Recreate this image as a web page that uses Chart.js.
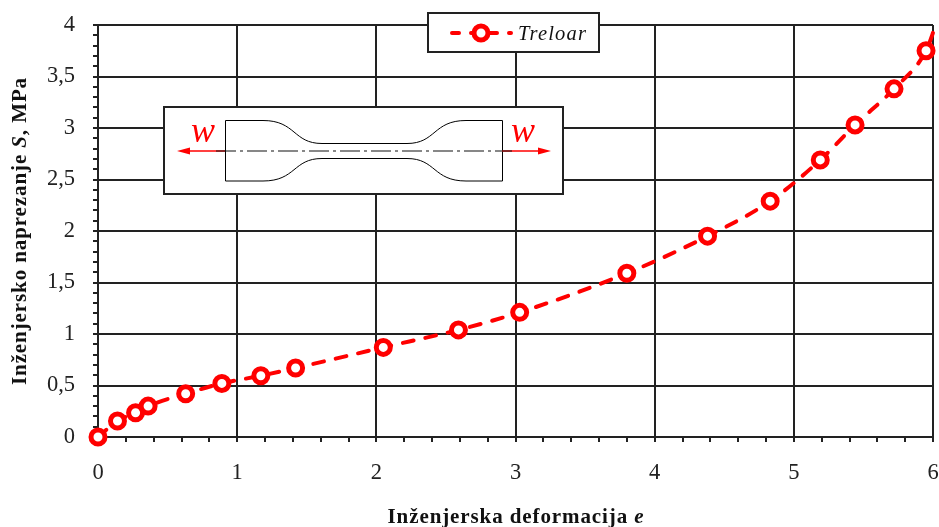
<!DOCTYPE html>
<html lang="en">
<head>
<meta charset="UTF-8" />
<title>Treloar</title>
<script src="https://cdn.jsdelivr.net/npm/chart.js"></script>
<style>
  html, body { margin: 0; padding: 0; background: #fff; }
  #wrap { width: 939px; height: 527px; }
</style>
</head>
<body>
<div id="wrap"><canvas id="chart" width="939" height="527"></canvas></div>
<script>
const seriesName = "Treloar";
const strain = [0, 0.14, 0.27, 0.36, 0.63, 0.89, 1.17, 1.42, 2.05, 2.59, 3.03, 3.80, 4.38, 4.83, 5.19, 5.44, 5.72, 5.95, 6.02];
const stress = [0, 0.155, 0.235, 0.30, 0.42, 0.52, 0.595, 0.67, 0.87, 1.04, 1.21, 1.59, 1.95, 2.29, 2.69, 3.03, 3.38, 3.75, 4.0];
// last point only carries the line to the frame, it has no marker
const markerRadius = strain.map((v, i) => i === strain.length - 1 ? 0 : 7);

const xTickLabels = ["0", "1", "2", "3", "4", "5", "6"];
const yTickLabels = ["0", "0,5", "1", "1,5", "2", "2,5", "3", "3,5", "4"];
const xTitle = "Inženjerska deformacija ";
const xTitleVar = "e";
const yTitle = "Inženjersko naprezanje ";
const yTitleVar = "S";
const yTitleUnit = ", MPa";
const forceLabel = "w";

const RED = "#ff0000";
const INK = "#222222";
const SERIF = '"Liberation Serif", serif';

function isMajor(v, every) {
  const n = v / every;
  return Math.abs(n - Math.round(n)) < 1e-6;
}

// text built from several fonts, centred on x
function mixedText(ctx, parts, x, y) {
  let total = 0;
  parts.forEach(p => { ctx.font = p.font; total += ctx.measureText(p.text).width; });
  let cx = x - total / 2;
  parts.forEach(p => {
    ctx.font = p.font;
    ctx.fillText(p.text, cx, y);
    cx += ctx.measureText(p.text).width;
  });
}

function drawArrow(ctx, x1, x2, y) {
  const dir = x2 > x1 ? 1 : -1;
  ctx.strokeStyle = RED;
  ctx.fillStyle = RED;
  ctx.lineWidth = 1.5;
  ctx.setLineDash([]);
  ctx.beginPath(); ctx.moveTo(x1, y); ctx.lineTo(x2 - dir * 8, y); ctx.stroke();
  ctx.beginPath();
  ctx.moveTo(x2, y);
  ctx.lineTo(x2 - dir * 13, y - 3.5);
  ctx.lineTo(x2 - dir * 13, y + 3.5);
  ctx.closePath();
  ctx.fill();
}

function drawInset(ctx) {
  ctx.save();
  ctx.fillStyle = "#fff";
  ctx.strokeStyle = INK;
  ctx.lineWidth = 2;
  ctx.fillRect(164, 107, 399, 87);
  ctx.strokeRect(164, 107, 399, 87);

  // specimen outline
  ctx.lineWidth = 1;
  ctx.strokeStyle = "#000";
  ctx.beginPath();
  ctx.moveTo(225.5, 120.5);
  ctx.lineTo(263, 120.5);
  ctx.bezierCurveTo(296, 120.5, 293, 143.5, 322, 143.5);
  ctx.lineTo(407, 143.5);
  ctx.bezierCurveTo(436, 143.5, 433, 120.5, 466, 120.5);
  ctx.lineTo(502.5, 120.5);
  ctx.lineTo(502.5, 181);
  ctx.lineTo(466, 181);
  ctx.bezierCurveTo(433, 181, 436, 158.5, 407, 158.5);
  ctx.lineTo(322, 158.5);
  ctx.bezierCurveTo(293, 158.5, 296, 181, 263, 181);
  ctx.lineTo(225.5, 181);
  ctx.closePath();
  ctx.stroke();

  drawArrow(ctx, 225, 177, 151);
  drawArrow(ctx, 502, 551, 151);

  // centre line
  ctx.strokeStyle = "#111";
  ctx.lineWidth = 1.2;
  ctx.setLineDash([20, 4, 3, 4]);
  ctx.beginPath(); ctx.moveTo(216, 151); ctx.lineTo(512, 151); ctx.stroke();
  ctx.setLineDash([]);

  ctx.fillStyle = RED;
  ctx.font = "italic 36px " + SERIF;
  ctx.textAlign = "center";
  ctx.textBaseline = "alphabetic";
  ctx.fillText(forceLabel, 203, 142);
  ctx.fillText(forceLabel, 523, 142);
  ctx.restore();
}

function drawLegend(ctx) {
  ctx.save();
  ctx.fillStyle = "#fff";
  ctx.strokeStyle = INK;
  ctx.lineWidth = 2;
  ctx.fillRect(428, 13, 171, 39);
  ctx.strokeRect(428, 13, 171, 39);

  ctx.strokeStyle = RED;
  ctx.lineWidth = 4;
  ctx.lineCap = "round";
  ctx.setLineDash([7, 12]);
  ctx.beginPath(); ctx.moveTo(452, 33); ctx.lineTo(511, 33); ctx.stroke();
  ctx.setLineDash([]);
  ctx.fillStyle = "#fff";
  ctx.beginPath(); ctx.arc(481, 33, 7, 0, Math.PI * 2); ctx.fill();
  ctx.lineWidth = 5;
  ctx.stroke();

  ctx.fillStyle = "#111";
  ctx.font = "italic 20.5px " + SERIF;
  ctx.letterSpacing = "1.2px";
  ctx.textAlign = "left";
  ctx.textBaseline = "alphabetic";
  ctx.fillText(seriesName, 518, 40);
  ctx.restore();
}

function drawTitles(ctx) {
  ctx.save();
  ctx.fillStyle = "#111";
  ctx.textAlign = "left";
  ctx.textBaseline = "alphabetic";
  ctx.letterSpacing = "0.9px";
  const bold = "bold 21px " + SERIF;
  const boldItalic = "italic bold 21px " + SERIF;
  mixedText(ctx, [{ text: xTitle, font: bold }, { text: xTitleVar, font: boldItalic }], 516, 523);
  ctx.translate(26, 231);
  ctx.rotate(-Math.PI / 2);
  mixedText(ctx, [
    { text: yTitle, font: bold },
    { text: yTitleVar, font: boldItalic },
    { text: yTitleUnit, font: bold }
  ], 0, 0);
  ctx.restore();
}

const extras = {
  id: "extras",
  afterDatasetsDraw(chart) {
    const ctx = chart.ctx;
    drawInset(ctx);
    drawLegend(ctx);
    drawTitles(ctx);
  }
};

new Chart(document.getElementById("chart").getContext("2d"), {
  type: "line",
  data: {
    datasets: [{
      label: seriesName,
      data: strain.map((x, i) => ({ x: x, y: stress[i] })),
      borderColor: RED,
      borderWidth: 4,
      borderDash: [11, 12],
      borderCapStyle: "round",
      cubicInterpolationMode: "monotone",
      pointRadius: markerRadius,
      pointBorderWidth: 5,
      pointBorderColor: RED,
      pointBackgroundColor: "#fff",
      clip: false
    }]
  },
  options: {
    responsive: false,
    animation: false,
    layout: { autoPadding: false, padding: { top: 25, right: 6, left: 0, bottom: 0 } },
    plugins: { legend: { display: false }, tooltip: { enabled: false } },
    scales: {
      x: {
        type: "linear",
        min: 0,
        max: 6,
        afterFit: s => { s.height = 90; s.paddingLeft = 0; s.paddingRight = 0; },
        border: { color: INK, width: 2 },
        grid: {
          color: c => isMajor(c.tick.value, 1) ? INK : "rgba(0,0,0,0)",
          tickColor: INK,
          tickLength: 5,
          lineWidth: 2
        },
        ticks: {
          stepSize: 0.2,
          autoSkip: false,
          maxRotation: 0,
          padding: 18,
          color: "#222",
          font: { family: SERIF, size: 22.5 },
          callback: v => isMajor(v, 1) ? xTickLabels[Math.round(v)] : ""
        }
      },
      y: {
        type: "linear",
        min: 0,
        max: 4,
        afterFit: s => { s.width = 98; s.paddingTop = 0; s.paddingBottom = 0; },
        border: { color: INK, width: 2 },
        grid: {
          color: c => isMajor(c.tick.value, 0.5) ? INK : "rgba(0,0,0,0)",
          tickColor: INK,
          tickLength: 5,
          lineWidth: 2
        },
        ticks: {
          stepSize: 0.1,
          autoSkip: false,
          padding: 18,
          color: "#222",
          font: { family: SERIF, size: 22.5 },
          callback: v => isMajor(v, 0.5) ? yTickLabels[Math.round(v * 2)] : ""
        }
      }
    }
  },
  plugins: [extras]
});
</script>
</body>
</html>
